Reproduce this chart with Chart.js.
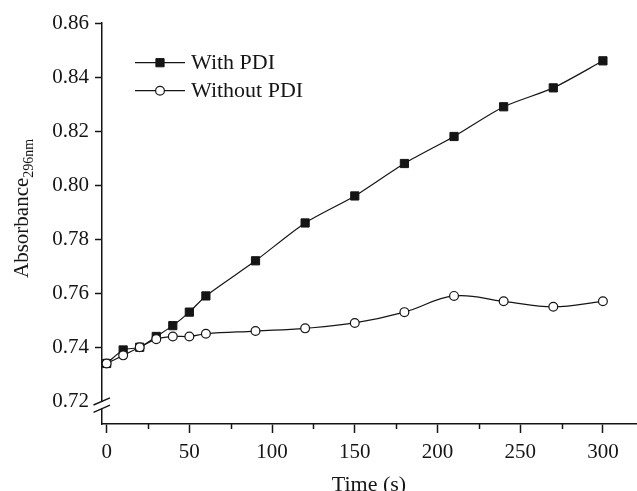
<!DOCTYPE html>
<html>
<head>
<meta charset="utf-8">
<script src="https://cdn.jsdelivr.net/npm/chart.js@4/dist/chart.umd.min.js"></script>
<style>
  html, body { margin: 0; padding: 0; background: #fff; }
  #wrap { width: 637px; height: 491px; }
</style>
</head>
<body>
<div id="wrap"><canvas id="c" width="637" height="491"></canvas></div>
<script>
// values
var times = [0, 10, 20, 30, 40, 50, 60, 90, 120, 150, 180, 210, 240, 270, 300];
var withPdi = [0.734, 0.739, 0.740, 0.744, 0.748, 0.753, 0.759, 0.772, 0.786, 0.796, 0.808, 0.818, 0.829, 0.836, 0.846];
var withoutPdi = [0.734, 0.737, 0.740, 0.743, 0.744, 0.744, 0.745, 0.746, 0.747, 0.749, 0.753, 0.759, 0.757, 0.755, 0.757];
var seriesNames = ['With PDI', 'Without PDI'];
var xTicks = [0, 50, 100, 150, 200, 250, 300];
var xMinorTicks = [25, 75, 125, 175, 225, 275];
var yTicks = [0.72, 0.74, 0.76, 0.78, 0.80, 0.82, 0.84, 0.86];
var yBreak = 0.72;

var ink = '#151515';
var serif = "'Liberation Serif', 'DejaVu Serif', serif";

function pts(ys) {
    return times.map(function (t, i) { return { x: t, y: ys[i] }; });
}

// white page, broken y axis, minor x ticks, legend and y title
var decor = {
    id: 'decor',
    beforeDraw: function (chart) {
        var ctx = chart.ctx;
        ctx.save();
        ctx.fillStyle = '#fff';
        ctx.fillRect(0, 0, chart.width, chart.height);
        ctx.restore();
    },
    afterDraw: function (chart) {
        var ctx = chart.ctx;
        var xs = chart.scales.x, ys = chart.scales.y;
        var area = chart.chartArea;
        ctx.save();

        // minor ticks
        ctx.strokeStyle = ink;
        ctx.lineWidth = 1.5;
        ctx.beginPath();
        xMinorTicks.forEach(function (v) {
            var px = Math.round(xs.getPixelForValue(v)) + 0.5;
            ctx.moveTo(px, area.bottom);
            ctx.lineTo(px, area.bottom + 5);
        });
        ctx.stroke();

        // axis break
        var by = ys.getPixelForValue(yBreak) + 3.5;
        var ax = area.left;
        ctx.fillStyle = '#fff';
        ctx.fillRect(ax - 3, by - 3.5, 6, 7);
        ctx.lineWidth = 1.4;
        ctx.beginPath();
        ctx.moveTo(ax - 8.5, by + 0.2);
        ctx.lineTo(ax + 8, by - 7);
        ctx.moveTo(ax - 8.5, by + 7.6);
        ctx.lineTo(ax + 8, by + 0.4);
        ctx.stroke();

        // legend
        var lx0 = 135, lx1 = 185, ly = [62.7, 90.7];
        chart.data.datasets.forEach(function (ds, i) {
            ctx.strokeStyle = ds.borderColor;
            ctx.lineWidth = ds.borderWidth;
            ctx.beginPath();
            ctx.moveTo(lx0, ly[i]);
            ctx.lineTo(lx1, ly[i]);
            ctx.stroke();
            ctx.fillStyle = ds.pointBackgroundColor;
            ctx.strokeStyle = ds.pointBorderColor;
            ctx.lineWidth = ds.pointBorderWidth;
            Chart.helpers.drawPoint(ctx, {
                pointStyle: ds.pointStyle,
                radius: ds.pointRadius,
                borderWidth: ds.pointBorderWidth,
                rotation: 0
            }, (lx0 + lx1) / 2, ly[i]);
            ctx.fillStyle = ink;
            ctx.font = '22px ' + serif;
            ctx.textBaseline = 'middle';
            ctx.textAlign = 'left';
            ctx.fillText(ds.label, 191, ly[i] + 1);
        });

        // y title with subscript
        ctx.translate(28, 278);
        ctx.rotate(-Math.PI / 2);
        ctx.fillStyle = ink;
        ctx.textBaseline = 'alphabetic';
        ctx.textAlign = 'left';
        ctx.font = '21px ' + serif;
        var main = 'Absorbance';
        ctx.fillText(main, 0, 0);
        var w = ctx.measureText(main).width;
        ctx.font = '14px ' + serif;
        ctx.fillText('296nm', w, 5);
        ctx.restore();
    }
};

new Chart(document.getElementById('c'), {
    type: 'line',
    data: {
        datasets: [{
            label: seriesNames[0],
            data: pts(withPdi),
            borderColor: ink,
            borderWidth: 1.2,
            tension: 0.25,
            pointStyle: 'rect',
            pointRadius: 5.8,
            pointBorderWidth: 1,
            pointBackgroundColor: ink,
            pointBorderColor: ink,
            order: 1
        }, {
            label: seriesNames[1],
            data: pts(withoutPdi),
            borderColor: ink,
            borderWidth: 1.2,
            tension: 0.4,
            pointStyle: 'circle',
            pointRadius: 4.4,
            pointBorderWidth: 1.2,
            pointBackgroundColor: '#fff',
            pointBorderColor: ink,
            order: 0
        }]
    },
    options: {
        responsive: false,
        animation: false,
        events: [],
        layout: { autoPadding: false, padding: { top: 23, right: 1, bottom: 0, left: 0 } },
        plugins: {
            legend: { display: false },
            tooltip: { enabled: false }
        },
        scales: {
            x: {
                type: 'linear',
                min: -2.8,
                max: 320,
                afterBuildTicks: function (s) { s.ticks = xTicks.map(function (v) { return { value: v }; }); },
                afterFit: function (s) { s.height = 67; s.paddingLeft = 0; s.paddingRight = 0; },
                border: { display: true, color: ink, width: 1.5 },
                grid: { display: true, drawOnChartArea: false, drawTicks: true, tickLength: 9, tickColor: ink, tickWidth: 1.5 },
                ticks: {
                    color: ink,
                    padding: 7,
                    maxRotation: 0,
                    autoSkip: false,
                    font: { family: serif, size: 21 },
                    callback: function (v) { return String(v); }
                },
                title: {
                    display: true,
                    text: 'Time (s)',
                    color: ink,
                    font: { family: serif, size: 22, lineHeight: 1 },
                    padding: { top: 0, bottom: -5 }
                }
            },
            y: {
                type: 'linear',
                min: 0.7116,
                max: 0.86,
                afterBuildTicks: function (s) { s.ticks = yTicks.map(function (v) { return { value: v }; }); },
                afterFit: function (s) { s.width = 102; s.paddingTop = 0; s.paddingBottom = 0; },
                border: { display: true, color: ink, width: 1.5 },
                grid: {
                    display: true,
                    drawOnChartArea: false,
                    drawTicks: true,
                    tickLength: 7,
                    tickWidth: 1.5,
                    tickColor: function (c) { return (c.tick && Math.abs(c.tick.value - yBreak) < 1e-6) ? 'rgba(0,0,0,0)' : ink; }
                },
                ticks: {
                    color: ink,
                    padding: 6,
                    autoSkip: false,
                    font: { family: serif, size: 21 },
                    callback: function (v) { return Number(v).toFixed(2); }
                }
            }
        }
    },
    plugins: [decor]
});
</script>
</body>
</html>
